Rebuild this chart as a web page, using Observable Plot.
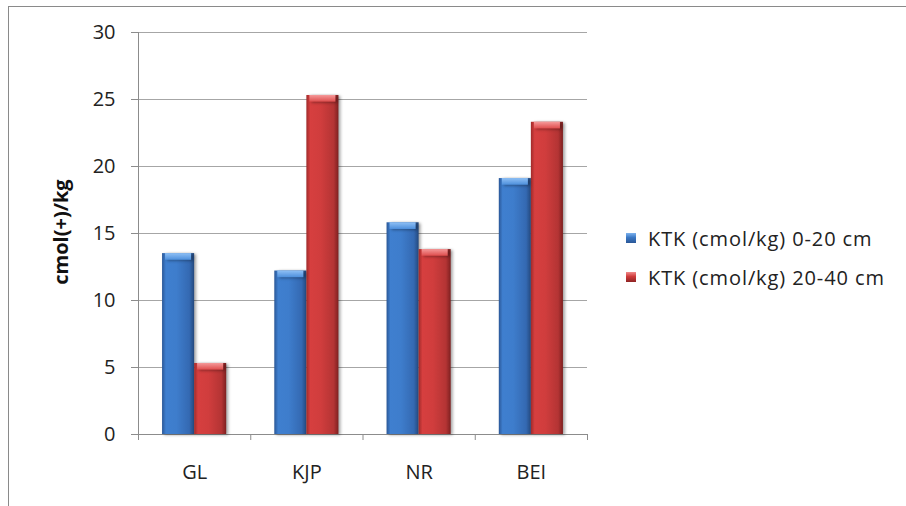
<!DOCTYPE html>
<html>
<head>
<meta charset="utf-8">
<script src="https://cdn.jsdelivr.net/npm/d3@7"></script>
<script src="https://cdn.jsdelivr.net/npm/@observablehq/plot@0.6"></script>
<style>
  html, body { margin: 0; padding: 0; background: #fff; }
  #wrap { position: relative; width: 906px; height: 506px; overflow: hidden; font-family: "Open Sans", Lato, sans-serif; }
  #border { position: absolute; left: 8px; top: 6px; width: 1000px; height: 600px; border: 1px solid #8a8a8a; box-sizing: border-box; }
  #legend { position: absolute; left: 626px; top: 0; font-size: 20px; letter-spacing: 0.9px; color: #222; }
  #legend .row { position: absolute; left: 0; display: flex; align-items: center; height: 30px; transform: translateY(-50%); white-space: nowrap; }
  #legend .sw { width: 10px; height: 10px; margin-right: 12px; flex: none; }
  #ylabel { position: absolute; left: 60px; top: 232px; transform: translate(-50%, -50%) rotate(-90deg); font-weight: bold; font-size: 20px; white-space: nowrap; color: #111; }
  svg g[aria-label="bar"] { filter: drop-shadow(2px 1px 1.5px rgba(0,0,0,0.35)); }
</style>
</head>
<body>
<div id="wrap">
  <div id="border"></div>
  <div id="chart"></div>
  <div id="ylabel"></div>
  <div id="legend"></div>
</div>
<script>
const categories = ["GL", "KJP", "NR", "BEI"];
const seriesNames = ["KTK (cmol/kg) 0-20 cm", "KTK (cmol/kg) 20-40 cm"];
const values0to20 = [13.5, 12.2, 15.8, 19.1];
const values20to40 = [5.3, 25.3, 13.8, 23.3];
const yTicks = [0, 5, 10, 15, 20, 25, 30];
const yLabel = "cmol(+)/kg";

const W = 906, H = 506;
const mL = 138, mR = 319, mT = 32, mB = 72;
const band = (W - mL - mR) / categories.length;
const barW = band * 0.2857;
const FONT = "'Open Sans', Lato, sans-serif";

const rows0 = categories.map((c, i) => ({cat: c, v: values0to20[i]}));
const rows1 = categories.map((c, i) => ({cat: c, v: values20to40[i]}));

function defs() {
  const ns = "http://www.w3.org/2000/svg";
  const d = document.createElementNS(ns, "defs");
  d.innerHTML = `
    <linearGradient id="gBlue" x1="0" x2="1" y1="0" y2="0">
      <stop offset="0" stop-color="#2a5797"/>
      <stop offset="0.12" stop-color="#3f7fcf"/>
      <stop offset="0.45" stop-color="#3e7dcc"/>
      <stop offset="0.85" stop-color="#3469b2"/>
      <stop offset="1" stop-color="#24497e"/>
    </linearGradient>
    <linearGradient id="gRed" x1="0" x2="1" y1="0" y2="0">
      <stop offset="0" stop-color="#a02a2a"/>
      <stop offset="0.12" stop-color="#d63f3f"/>
      <stop offset="0.45" stop-color="#d03d3d"/>
      <stop offset="0.85" stop-color="#b43434"/>
      <stop offset="1" stop-color="#7e2020"/>
    </linearGradient>
    <linearGradient id="gBlueCap" x1="0" x2="0" y1="0" y2="1">
      <stop offset="0" stop-color="#8fc0f5"/>
      <stop offset="1" stop-color="#4d8fdc"/>
    </linearGradient>
    <linearGradient id="gRedCap" x1="0" x2="0" y1="0" y2="1">
      <stop offset="0" stop-color="#f59a9a"/>
      <stop offset="1" stop-color="#de4c4c"/>
    </linearGradient>`;
  return d;
}

const gray = "#8c8c8c";
const capU = 0.5;

const plot = Plot.plot({
  width: W, height: H,
  marginLeft: mL, marginRight: mR, marginTop: mT, marginBottom: mB,
  style: {fontFamily: FONT, fontSize: "20px", color: "#222", background: "transparent"},
  x: {domain: categories, padding: 0, round: false, label: null},
  y: {domain: [0, 30], label: null},
  marks: [
    defs,
    Plot.gridY(yTicks, {stroke: "#a6a6a6", strokeOpacity: 1}),
    Plot.ruleY([0], {stroke: gray}),
    Plot.ruleX([categories[0]], {dx: -band / 2, stroke: gray}),
    Plot.axisY({ticks: yTicks, tickSize: 7, tickPadding: 16, stroke: gray, label: null, fontSize: 20}),
    Plot.axisX({tickSize: 6, tickFormat: () => "", dx: -band / 2, stroke: gray, label: null}),
    Plot.ruleX([categories[categories.length - 1]], {dx: band / 2, y1: 0, y2: 0, insetBottom: -6, stroke: gray}),
    Plot.axisX({tickSize: 0, tickPadding: 30, label: null, fontSize: 20}),
    Plot.barY(rows0, {x: "cat", y: "v", fill: "url(#gBlue)", insetLeft: band / 2 - barW, insetRight: band / 2}),
    Plot.barY(rows1, {x: "cat", y: "v", fill: "url(#gRed)", insetLeft: band / 2, insetRight: band / 2 - barW}),
    Plot.barY(rows0, {x: "cat", y1: d => d.v - capU, y2: "v", fill: "url(#gBlueCap)", insetLeft: band / 2 - barW + 3, insetRight: band / 2 + 3}),
    Plot.barY(rows1, {x: "cat", y1: d => d.v - capU, y2: "v", fill: "url(#gRedCap)", insetLeft: band / 2 + 3, insetRight: band / 2 - barW + 3})
  ]
});
document.getElementById("chart").appendChild(plot);
document.getElementById("ylabel").textContent = yLabel;

const legend = document.getElementById("legend");
const swFills = ["linear-gradient(to bottom, #7db2ee, #3b78c4 45%, #2a5797)", "linear-gradient(to bottom, #f08a8a, #cf3b3b 45%, #8e2424)"];
const rowCenters = [238, 277];
seriesNames.forEach((n, i) => {
  const r = document.createElement("div");
  r.className = "row";
  r.style.top = rowCenters[i] + "px";
  const s = document.createElement("span");
  s.className = "sw";
  s.style.background = swFills[i];
  const t = document.createElement("span");
  t.textContent = n;
  r.appendChild(s); r.appendChild(t);
  legend.appendChild(r);
});
</script>
</body>
</html>
